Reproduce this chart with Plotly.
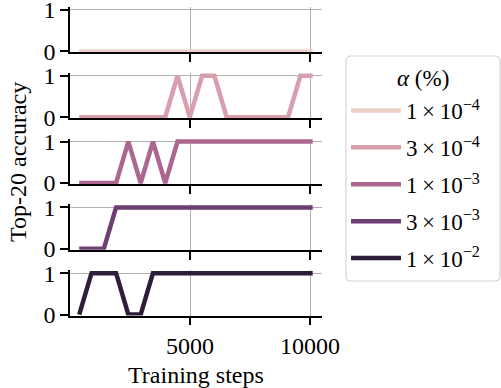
import plotly.graph_objects as go

steps = [384, 896, 1408, 1920, 2432, 2944, 3456, 3968, 4480, 4992,
         5504, 6016, 6528, 7040, 7552, 8064, 8576, 9088, 9600, 10112]

acc_1e4 = [0, 0, 0, 0, 0, 0, 0, 0, 0, 0, 0, 0, 0, 0, 0, 0, 0, 0, 0, 0]
acc_3e4 = [0, 0, 0, 0, 0, 0, 0, 0, 1, 0, 1, 1, 0, 0, 0, 0, 0, 0, 1, 1]
acc_1e3 = [0, 0, 0, 0, 1, 0, 1, 0, 1, 1, 1, 1, 1, 1, 1, 1, 1, 1, 1, 1]
acc_3e3 = [0, 0, 0, 1, 1, 1, 1, 1, 1, 1, 1, 1, 1, 1, 1, 1, 1, 1, 1, 1]
acc_1e2 = [0, 1, 1, 1, 0, 0, 1, 1, 1, 1, 1, 1, 1, 1, 1, 1, 1, 1, 1, 1]

series = [acc_1e4, acc_3e4, acc_1e3, acc_3e3, acc_1e2]
labels = ["1\u2009×\u200910<sup>−4</sup>", "3\u2009×\u200910<sup>−4</sup>",
          "1\u2009×\u200910<sup>−3</sup>", "3\u2009×\u200910<sup>−3</sup>",
          "1\u2009×\u200910<sup>−2</sup>"]
colors = ["#ecd0ca", "#d69fab", "#ad6690", "#6e3f72", "#2e1e3b"]

x_ticks = [5000, 10000]
y_ticks = [0, 1]

W, H = 501, 388
ml, mr, mt, mb = 70, 179, 7, 72
ph = H - mt - mb
pw = W - ml - mr
row_pitch = 65.8
row_h = 45.4

FONT = "Liberation Serif"
fs = 24


def px_x(p):
    return (p - ml) / pw


def px_y(p):
    return (H - mb - p) / ph


fig = go.Figure()
layout = dict(
    width=W, height=H,
    margin=dict(l=ml, r=mr, t=mt, b=mb, autoexpand=False),
    paper_bgcolor="white", plot_bgcolor="white",
    font=dict(family=FONT, size=fs, color="black"),
    showlegend=True,
    legend=dict(
        x=px_x(346), y=px_y(89),
        xanchor="left", yanchor="top",
        bgcolor="rgba(0,0,0,0)", borderwidth=0,
        font=dict(family=FONT, size=23),
        itemwidth=50,
        tracegroupgap=4,
    ),
)

for i, (vals, lab, col) in enumerate(zip(series, labels, colors)):
    n = i + 1
    xa = "x" if n == 1 else f"x{n}"
    ya = "y" if n == 1 else f"y{n}"
    fig.add_trace(go.Scatter(
        x=steps, y=vals, mode="lines", name=lab,
        line=dict(color=col, width=4.5),
        xaxis=xa, yaxis=ya, legendgroup=f"g{n}",
    ))
    top = 1 - (i * row_pitch) / ph
    bot = top - row_h / ph
    layout[f"xaxis{n if n > 1 else ''}"] = dict(
        domain=[0, 1], anchor=ya, range=[0, 10500],
        matches=None if n == 1 else "x",
        tickvals=x_ticks, ticktext=[str(v) for v in x_ticks],
        showticklabels=(n == 5), automargin=False,
        ticklabeloverflow="allow",
        ticks="outside", ticklen=8, tickwidth=1.5, tickcolor="black",
        showline=True, linecolor="black", linewidth=1.5,
        showgrid=True, gridcolor="#b0b0b0", gridwidth=1,
        zeroline=False,
        tickfont=dict(family=FONT, size=fs),
    )
    layout[f"yaxis{n if n > 1 else ''}"] = dict(
        domain=[max(bot, 0), min(top, 1)], anchor=xa,
        range=[-0.024, 1.072], automargin=False,
        ticklabeloverflow="allow",
        tickvals=y_ticks, ticktext=[str(v) for v in y_ticks],
        ticks="outside", ticklen=8, tickwidth=1.5, tickcolor="black",
        showline=True, linecolor="black", linewidth=1.5,
        showgrid=True, gridcolor="#b0b0b0", gridwidth=1,
        zeroline=False,
        tickfont=dict(family=FONT, size=fs),
    )

fig.update_layout(**layout)

# legend frame (rounded box) and title
x0, x1, y0, y1, r = 346, 500, 56, 281, 5
path = (f"M {px_x(x0 + r)} {px_y(y0)} L {px_x(x1 - r)} {px_y(y0)} "
        f"Q {px_x(x1)} {px_y(y0)} {px_x(x1)} {px_y(y0 + r)} "
        f"L {px_x(x1)} {px_y(y1 - r)} "
        f"Q {px_x(x1)} {px_y(y1)} {px_x(x1 - r)} {px_y(y1)} "
        f"L {px_x(x0 + r)} {px_y(y1)} "
        f"Q {px_x(x0)} {px_y(y1)} {px_x(x0)} {px_y(y1 - r)} "
        f"L {px_x(x0)} {px_y(y0 + r)} "
        f"Q {px_x(x0)} {px_y(y0)} {px_x(x0 + r)} {px_y(y0)} Z")
fig.add_shape(type="path", path=path, xref="paper", yref="paper",
              line=dict(color="#d5d5d5", width=1.2), fillcolor="white",
              layer="above")
fig.add_annotation(
    text="<i>α</i> (%)", xref="paper", yref="paper",
    x=px_x(423), y=px_y(78), xanchor="center", yanchor="middle",
    showarrow=False, font=dict(family=FONT, size=23),
)

fig.add_annotation(
    text="Training steps", xref="paper", yref="paper",
    x=0.5, y=px_y(375), xanchor="center", yanchor="middle",
    showarrow=False, font=dict(family=FONT, size=fs),
)
fig.add_annotation(
    text="Top-20 accuracy", xref="paper", yref="paper",
    x=px_x(18), y=px_y(162),
    xanchor="center", yanchor="middle", textangle=-90,
    showarrow=False, font=dict(family=FONT, size=fs),
)

fig.write_html(
    "out.html",
    config={"displayModeBar": False},
    post_script="document.body.style.margin='0';document.body.style.overflow='hidden';",
)
